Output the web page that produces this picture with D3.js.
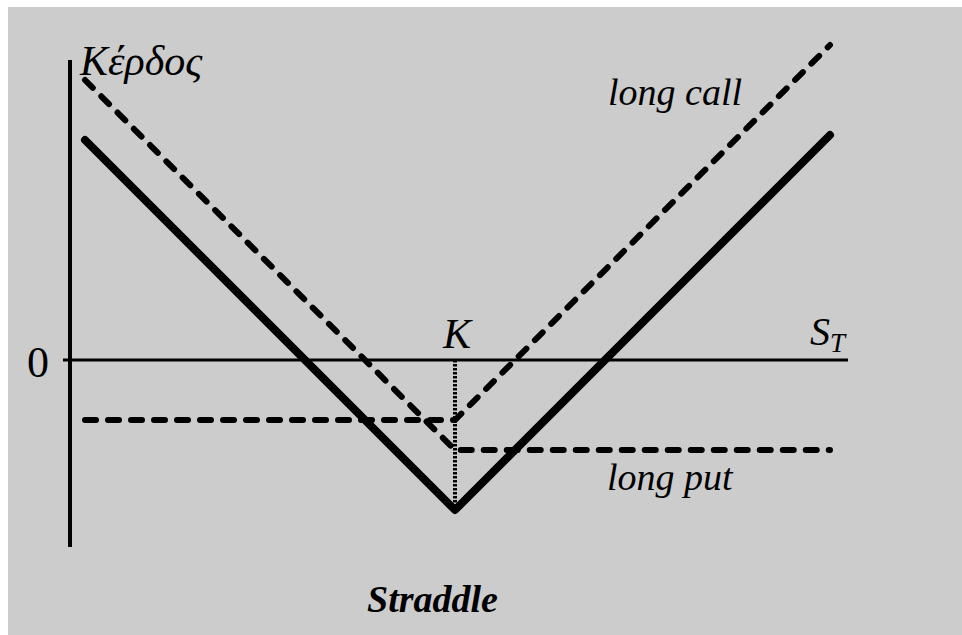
<!DOCTYPE html>
<html>

<head>
  <meta charset="utf-8">
  <title>Straddle</title>
  <script src="https://d3js.org/d3.v7.min.js"></script>
  <style>
    body { margin: 0; background: #fff; }
    text { font-family: "Liberation Serif", "Times New Roman", Tinos, Times, "DejaVu Serif", "Noto Serif", serif; font-style: italic; fill: #000; }
  </style>
</head>

<body>
  <script>
    // values (price units, profit units)
    var strike = 77;
    var longCall = [[3, -12], [77, -12], [152, 63]];
    var longPut = [[3, 56], [77, -18], [152, -18]];
    var straddle = [[3, 44], [77, -30], [152, 45]];
    var axisLabels = { y: "Κέρδος", x: "S", xSub: "T", zero: "0", strike: "K" };

    var width = 962, height = 635;
    var serif = "'Liberation Serif', 'Times New Roman', Tinos, Times, 'DejaVu Serif', 'Noto Serif', serif";

    var svg = d3.select("body").append("svg").attr("width", width).attr("height", height);

    svg.append("rect")
      .attr("x", 8).attr("y", 7)
      .attr("width", width - 8).attr("height", height - 7)
      .attr("fill", "#cccccc");

    var xScale = d3.scaleLinear().domain([0, 160]).range([70, 870]);
    var yScale = d3.scaleLinear().domain([-37.4, 60]).range([547, 60]);

    var line = d3.line()
      .x(function (d) { return xScale(d[0]) })
      .y(function (d) { return yScale(d[1]) });

    // axes
    svg.append("line")
      .attr("x1", xScale(0)).attr("x2", xScale(0))
      .attr("y1", yScale(60)).attr("y2", yScale(-37.4))
      .attr("stroke", "#000").attr("stroke-width", 4);

    svg.append("line")
      .attr("x1", xScale(-1.4)).attr("x2", xScale(155.6))
      .attr("y1", yScale(0)).attr("y2", yScale(0))
      .attr("stroke", "#000").attr("stroke-width", 3);

    // dotted strike line
    svg.append("line")
      .attr("x1", xScale(strike)).attr("x2", xScale(strike))
      .attr("y1", yScale(0)).attr("y2", yScale(-30))
      .attr("stroke", "#000").attr("stroke-width", 4)
      .attr("stroke-dasharray", "2.5,1.5");

    // long call / long put dashed
    [longCall, longPut].forEach(function (s) {
      svg.append("path")
        .datum(s)
        .attr("d", line)
        .attr("fill", "none")
        .attr("stroke", "#000")
        .attr("stroke-width", 6)
        .attr("stroke-linecap", "round")
        .attr("stroke-dasharray", "11,12");
    });

    // straddle
    svg.append("path")
      .datum(straddle)
      .attr("d", line)
      .attr("fill", "none")
      .attr("stroke", "#000")
      .attr("stroke-width", 8)
      .attr("stroke-linecap", "round")
      .attr("stroke-linejoin", "round");

    // labels
    function label(x, y, size, txt) {
      return svg.append("text")
        .attr("x", x).attr("y", y)
        .attr("font-family", serif)
        .attr("font-style", "italic")
        .attr("font-size", size)
        .text(txt);
    }

    label(80, 75, 42, axisLabels.y);
    label(27, 377, 44, axisLabels.zero).style("font-style", "normal");
    label(443, 348, 42, axisLabels.strike);

    var st = label(810, 345, 40, axisLabels.x);
    st.append("tspan").attr("dy", 7).attr("font-size", 27).text(axisLabels.xSub);

    label(608, 105, 38, "long call");
    label(607, 490, 38, "long put");
    label(367, 612, 38, "Straddle").attr("font-weight", "bold");
  </script>
</body>

</html>
